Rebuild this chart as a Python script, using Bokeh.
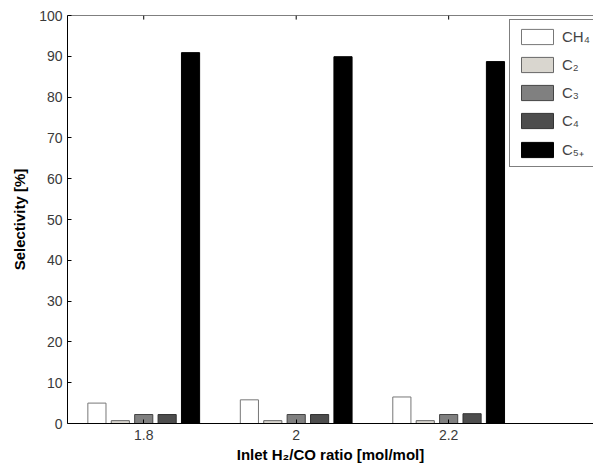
import numpy as np
from bokeh.plotting import figure
from bokeh.models import Range1d, FixedTicker, Legend, LegendItem, Span
from bokeh.embed import file_html
from bokeh.resources import INLINE

ratios = [1.8, 2.0, 2.2]
tick_labels = {1.8: "1.8", 2.0: "2", 2.2: "2.2"}
ch4 = [5.0, 5.8, 6.5]
c2 = [0.7, 0.7, 0.7]
c3 = [2.2, 2.2, 2.2]
c4 = [2.2, 2.2, 2.4]
c5p = [90.9, 89.9, 88.7]
series_names = ["CH₄", "C₂", "C₃", "C₄", "C₅₊"]
series_colors = ["#ffffff", "#d9d6cf", "#808080", "#4d4d4d", "#000000"]
series_lines = ["#777777", "#666666", "#444444", "#333333", "#000000"]

p = figure(width=593, height=470, output_backend="svg", toolbar_location=None,
           x_range=Range1d(1.7, 2.39), y_range=Range1d(0, 100),
           min_border_left=67, min_border_right=0, min_border_top=15, min_border_bottom=47)
p.outline_line_color = None
p.xgrid.visible = False
p.ygrid.visible = False
p.background_fill_color = "white"

step = 0.0307
bw = 0.0238
renderers = []
for i, (vals, col, lc) in enumerate(zip([ch4, c2, c3, c4, c5p], series_colors, series_lines)):
    xs = np.array(ratios) + (i - 2) * step
    r = p.vbar(x=xs, top=vals, width=bw, bottom=0, fill_color=col, line_color=lc, line_width=1)
    renderers.append(r)

# top box line with inward ticks
p.add_layout(Span(location=100, dimension="width", line_color="black", line_width=1))
p.segment(x0=ratios, x1=ratios, y0=[100] * 3, y1=[99] * 3, line_color="black", line_width=1)

font = "Liberation Sans"
for ax in [p.xaxis[0], p.yaxis[0]]:
    ax.major_tick_in = 4
    ax.major_tick_out = 0
    ax.minor_tick_in = 0
    ax.minor_tick_out = 0
    ax.axis_line_color = "black"
    ax.major_tick_line_color = "black"
    ax.major_label_text_font = font
    ax.major_label_text_font_size = "14px"
    ax.major_label_text_color = "#3a3a3a"
    ax.axis_label_text_font = font
    ax.axis_label_text_font_size = "15px"
    ax.axis_label_text_font_style = "bold"
    ax.axis_label_text_color = "black"

p.xaxis[0].ticker = FixedTicker(ticks=ratios)
p.xaxis[0].major_label_overrides = tick_labels
p.xaxis[0].major_label_standoff = 6
p.xaxis[0].axis_label = "Inlet H₂/CO ratio [mol/mol]"
p.xaxis[0].axis_label_standoff = 3

p.yaxis[0].ticker = FixedTicker(ticks=list(range(0, 101, 10)))
p.yaxis[0].major_label_standoff = 5
p.yaxis[0].axis_label = "Selectivity [%]"
p.yaxis[0].axis_label_standoff = 8

legend = Legend(items=[LegendItem(label=n, renderers=[r]) for n, r in zip(series_names, renderers)],
                location=(442, 256), glyph_width=40, glyph_height=19, label_height=19,
                label_width=45, spacing=9, padding=7, margin=0, label_standoff=5,
                label_text_font=font, label_text_font_size="15px",
                border_line_color="black", border_line_width=1,
                background_fill_alpha=1.0)
p.add_layout(legend)

open("out.html", "w").write(file_html(p, INLINE))
